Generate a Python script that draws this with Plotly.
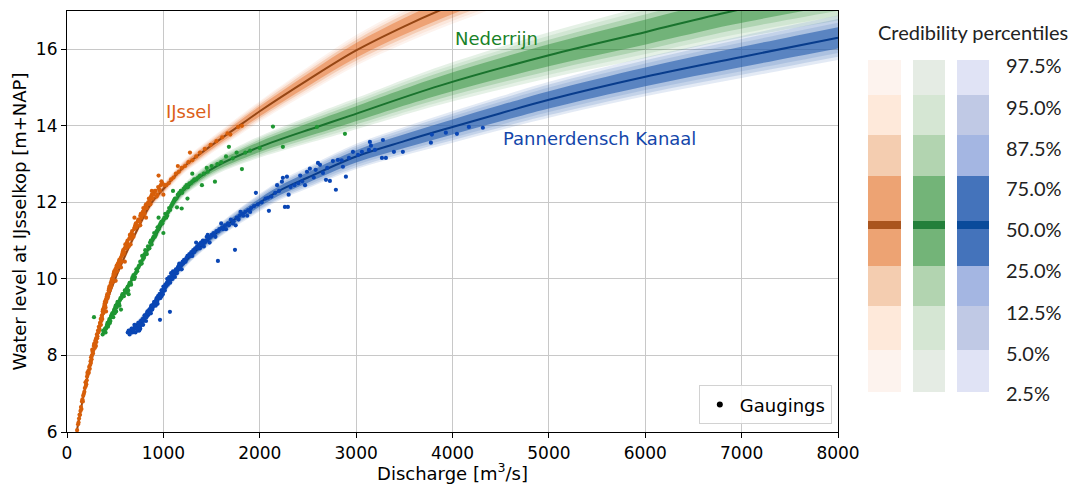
import plotly.graph_objects as go

# ---------------- data ----------------
# Median rating curves (discharge m3/s -> water level m+NAP)
ijssel_q = [100, 200, 300, 400, 500, 675, 880, 1000, 1200, 1320, 1550, 1730, 2000, 2500, 3000, 3500, 3900, 4300, 4800]
ijssel_h = [6.0, 7.3, 8.35, 9.3, 10.0, 11.0, 12.0, 12.35, 12.9, 13.15, 13.58, 13.9, 14.38, 15.2, 15.97, 16.6, 17.05, 17.45, 17.92]
ijssel_spread = [0.04, 0.05, 0.06, 0.08, 0.09, 0.11, 0.13, 0.15, 0.17, 0.19, 0.21, 0.24, 0.27, 0.34, 0.40, 0.45, 0.48, 0.50, 0.52]

nederrijn_q = [365, 500, 690, 860, 1000, 1100, 1205, 1400, 1555, 2000, 2593, 2935, 3870, 5010, 6017, 6910, 8000]
nederrijn_h = [8.55, 9.2, 10.05, 10.85, 11.5, 11.95, 12.3, 12.7, 12.95, 13.45, 13.97, 14.26, 15.05, 15.85, 16.46, 17.0, 17.55]
nederrijn_spread = [0.08, 0.09, 0.11, 0.12, 0.14, 0.15, 0.16, 0.19, 0.21, 0.28, 0.36, 0.40, 0.50, 0.60, 0.68, 0.74, 0.80]

pk_q = [640, 760, 890, 1005, 1070, 1245, 1590, 1930, 2200, 2500, 3000, 3500, 4000, 4500, 5000, 6000, 7000, 8000]
pk_h = [8.6, 8.9, 9.3, 9.7, 9.93, 10.5, 11.28, 11.88, 12.3, 12.65, 13.2, 13.6, 13.97, 14.33, 14.68, 15.28, 15.8, 16.3]
pk_spread = [0.10, 0.10, 0.11, 0.12, 0.13, 0.15, 0.18, 0.22, 0.25, 0.28, 0.33, 0.37, 0.41, 0.44, 0.47, 0.51, 0.55, 0.58]

# relative half-width of each credibility band (97.5/2.5, 95/5, 87.5/12.5, 75/25)
band_factors = [1.0, 0.85, 0.68, 0.48]

# Gaugings (Q, h)
ijssel_gaugings = [(105,6.05),(115,6.2),(125,6.35),(135,6.45),(145,6.65),(150,6.6),(160,6.85),(168,6.95),(175,7.0),
    (185,7.15),(192,7.3),(200,7.25),(208,7.45),(215,7.5),(222,7.6),(230,7.7),(236,7.65),(245,7.85),(250,7.95),
    (258,8.0),(265,8.1),(270,8.05),(278,8.25),(285,8.3),(290,8.2),(296,8.4),(302,8.45),(310,8.55),(316,8.5),
    (322,8.65),(330,8.75),(336,8.7),(342,8.85),(350,8.95),(356,8.9),(362,9.05),(370,9.15),(376,9.1),(383,9.25),
    (390,9.35),(396,9.3),(402,9.45),(410,9.5),(418,9.6),(425,9.55),(432,9.7),(440,9.8),(448,9.75),(455,9.9),
    (462,9.95),(470,9.9),(478,10.05),(486,10.15),(494,10.1),(502,10.25),(512,10.3),(520,10.2),(528,10.4),
    (538,10.45),(548,10.4),(558,10.55),(568,10.6),(578,10.7),(588,10.65),(598,10.8),(610,10.85),(622,10.95),
    (634,10.9),(646,11.05),(658,11.1),(670,11.2),(684,11.15),(696,11.3),(708,11.4),(720,11.35),(734,11.5),
    (748,11.55),(760,11.65),(772,11.6),(786,11.75),(800,11.8),(814,11.9),(828,11.85),(842,12.0),(858,12.05),
    (872,12.15),(888,12.1),(904,12.25),(920,12.3),(938,12.2),(955,12.35),(972,12.45),(990,12.5),(1010,12.45),
    (1030,12.45),(1055,12.5),(1080,12.6),(1105,12.65),(1130,12.75),(1160,12.8),(1190,12.9),(1225,12.95),
    (1260,13.05),(1300,13.1),(1340,13.2),(1380,13.3),(1430,13.4),(1490,13.5),(1550,13.6),(1610,13.7),
    (1665,13.8),(1695,13.77),(1775,13.97),(1815,14.0),(700,11.6),(820,11.6),(950,12.7),(600,10.45),(505,9.95),
    (405,9.15),(300,8.25),(1000,12.2),(1150,12.95),(1276,13.3),(760,11.4),(660,10.9),(560,10.3),(880,12.3),
    (120,6.25),(130,6.45),(140,6.55),(155,6.8),(165,6.8),(180,7.05),(195,7.2),(205,7.35),(212,7.55),(226,7.55),
    (240,7.75),(248,7.8),(255,7.9),(262,8.15),(275,8.15),(282,8.3),(293,8.35),(305,8.35),(313,8.45),(325,8.6),
    (333,8.65),(345,8.8),(352,8.8),(360,9.0),(366,8.95),(373,9.2),(380,9.15),(388,9.3),(393,9.4),(400,9.25),
    (407,9.4),(414,9.55),(422,9.5),(430,9.6),(436,9.75),(444,9.7),(452,9.85),(458,9.8),(466,10.0),(474,9.95),
    (482,10.1),(490,10.2),(498,10.15),(508,10.2),(516,10.35),(524,10.3),(535,10.35),(543,10.5),(553,10.5),
    (563,10.45),(573,10.65),(583,10.75),(593,10.7),(605,10.9),(615,10.8),(628,11.0),(640,10.85),(652,11.15),
    (664,11.05),(676,11.25),(690,11.1),(702,11.35),(714,11.45),(726,11.4),(740,11.55),(754,11.5),(766,11.7),
    (778,11.65),(792,11.85),(806,11.7),(820,11.95),(835,11.95),(850,12.1),(865,11.95),(880,12.2),(896,12.2),
    (912,12.3),(930,12.15),(946,12.4),(964,12.3),(980,12.55)]

nederrijn_gaugings = [(370,8.55),(385,8.6),(395,8.7),(400,8.6),(410,8.75),(420,8.85),(430,8.8),(440,8.95),(450,8.9),
    (460,9.05),(470,9.1),(480,9.0),(490,9.2),(500,9.25),(510,9.15),(520,9.35),(535,9.4),(545,9.3),(555,9.5),
    (570,9.55),(585,9.6),(600,9.7),(615,9.65),(630,9.8),(645,9.85),(660,9.9),(675,10.0),(690,10.1),(705,10.05),
    (720,10.25),(740,10.3),(760,10.45),(775,10.4),(790,10.6),(805,10.65),(820,10.7),(840,10.85),(855,10.8),
    (870,11.0),(890,11.05),(905,11.2),(920,11.15),(940,11.35),(960,11.4),(980,11.5),(1000,11.55),(1020,11.7),
    (1040,11.65),(1060,11.85),(1080,11.9),(1100,12.0),(1120,12.1),(1150,12.2),(1180,12.3),(1210,12.35),
    (1240,12.45),(1270,12.5),(1300,12.55),(1340,12.6),(1380,12.7),(1420,12.75),(1460,12.8),(1535,12.54),
    (1500,12.95),(1560,13.0),(1600,13.05),(1680,13.45),(1720,13.15),(1815,12.87),(1850,13.3),(1900,13.35),
    (2000,13.42),(2137,13.98),(2240,13.45),(2593,13.97),(2884,13.79),(280,9.0),(1000,11.2),(950,11.6),
    (1250,12.1),(1400,12.45),(1100,12.3),(1141,11.87),(1190,11.84),(640,9.6),(780,10.6),(560,9.2),(1300,12.75),
    (1650,13.2),(1760,13.3),(1450,12.9),
    (375,8.65),(390,8.65),(405,8.7),(415,8.8),(425,8.75),(435,8.9),(445,8.85),(455,9.0),(465,9.0),(475,9.1),
    (485,9.15),(495,9.1),(505,9.3),(515,9.25),(525,9.4),(540,9.35),(550,9.45),(565,9.5),(575,9.6),(590,9.55),
    (605,9.65),(620,9.75),(635,9.7),(650,9.9),(665,9.85),(680,10.05),(698,10.0),(712,10.15),(728,10.2),
    (748,10.35),(768,10.4),(785,10.5),(798,10.55),(812,10.75),(828,10.65),(848,10.8),(862,10.95),(878,10.9),
    (898,11.1),(912,11.1),(930,11.25),(950,11.3),(970,11.45),(990,11.45),(1010,11.6),(1030,11.6),(1050,11.75),
    (1070,11.8),(1090,11.95),(1110,12.05),(1135,12.1),(1165,12.25),(1195,12.25),(1225,12.4),(1255,12.4),
    (1285,12.5),(1320,12.6),(1360,12.65)]

pk_gaugings = [(630,8.6),(650,8.55),(660,8.65),(680,8.6),(700,8.7),(710,8.6),(720,8.75),(735,8.65),(750,8.8),
    (760,8.7),(770,8.85),(780,8.9),(790,8.8),(800,8.95),(810,9.0),(820,8.9),(830,9.1),(840,9.05),(850,9.15),
    (860,9.2),(870,9.1),(880,9.3),(890,9.25),(900,9.35),(910,9.4),(920,9.3),(930,9.5),(940,9.45),(950,9.55),
    (960,9.6),(970,9.5),(980,9.7),(990,9.65),(1000,9.8),(1010,9.75),(1020,9.85),(1035,9.9),(1050,9.95),
    (1060,10.05),(1075,10.0),(1090,10.1),(1100,10.2),(1115,10.15),(1130,10.25),(1150,10.3),(1165,10.4),
    (1180,10.35),(1200,10.45),(1215,10.5),(1230,10.45),(1250,10.6),(1270,10.65),(1290,10.7),(1310,10.75),
    (1330,10.8),(1350,10.85),(1370,10.9),(1390,10.95),(1410,11.0),(1430,10.95),(1450,11.1),(1470,11.05),
    (1500,11.15),(1520,11.2),(1550,11.25),(1580,11.3),(1610,11.35),(1640,11.4),(1670,11.45),(1700,11.55),
    (1730,11.5),(1760,11.6),(1790,11.65),(1820,11.7),(1850,11.75),(1880,11.8),(1910,11.85),(1960,12.25),
    (1940,11.9),(1980,11.95),(2020,12.0),(2060,12.1),(2085,12.12),(2120,12.15),(2160,12.25),(2200,12.3),
    (2230,12.54),(2240,12.64),(2261,11.88),(2282,12.67),(2292,11.88),(2320,12.4),(2360,12.45),(2400,12.5),
    (2440,12.55),(2490,12.8),(2520,12.88),(2560,12.65),(2604,13.03),(2625,12.98),(2656,12.77),(2687,12.59),
    (2728,12.56),(2759,13.08),(2790,12.33),(2811,13.11),(2863,12.93),(2894,12.67),(2925,13.16),(2967,13.32),
    (3019,13.24),(3060,13.32),(3133,13.37),(3143,13.58),(3154,13.48),(3195,13.37),(3268,13.16),(3278,13.63),
    (3309,13.16),(3392,13.32),(3485,13.32),(3776,13.56),(3786,13.77),(3931,13.82),(4046,13.79),(4170,13.97),
    (4315,13.95),(700,8.8),(750,8.65),(820,9.05),(870,9.25),(940,9.35),(980,9.55),(1040,10.0),(1080,10.15),
    (1120,10.05),(1160,10.35),(1190,10.25),(1260,10.6),(1300,10.6),(1340,10.95),(1380,10.8),(1420,10.85),
    (1460,11.15),(1480,10.95),(1540,11.1),(1600,11.45),(1650,11.3),(1750,11.4),(1800,11.75),(1870,11.65),
    (1743,10.76),(1566,10.47),(1068,9.14),(965,8.93),(2095,11.78),(2180,12.45),(2300,12.2),(2420,12.7),
    (2470,12.45),(2580,12.85),(2700,12.9),(2850,13.1),
    (640,8.65),(655,8.6),(670,8.7),(690,8.65),(705,8.75),(725,8.7),(740,8.85),(755,8.75),(765,8.9),(775,8.8),
    (785,8.95),(795,8.9),(805,9.05),(815,9.0),(825,9.0),(835,9.15),(845,9.1),(855,9.2),(865,9.15),(875,9.3),
    (885,9.2),(895,9.3),(905,9.4),(915,9.35),(925,9.45),(935,9.4),(945,9.55),(955,9.5),(965,9.6),(975,9.55),
    (985,9.7),(995,9.6),(1005,9.75),(1015,9.7),(1025,9.8),(1045,9.85),(1055,9.95),(1070,9.9),(1085,10.05),
    (1095,10.0),(1110,10.1),(1125,10.2),(1140,10.15),(1155,10.25),(1170,10.3),(1185,10.4),(1205,10.4),
    (1220,10.45),(1240,10.55),(1280,10.6),(1320,10.7),(1360,10.8),(1400,10.9),(1440,11.0),(1490,11.1),
    (1530,11.15),(1570,11.25),(1620,11.3),(1680,11.4),(1720,11.45),(1780,11.55),(1830,11.65),(1900,11.75)]

river_names = ["IJssel", "Nederrijn", "Pannerdensch Kanaal"]
percentile_labels = ["97.5%", "95.0%", "87.5%", "75.0%", "50.0%", "25.0%", "12.5%", "5.0%", "2.5%"]

# ---------------- styles ----------------
band_base = {"IJssel": (224, 90, 10), "Nederrijn": (40, 140, 50), "Pannerdensch Kanaal": (40, 95, 175)}
band_alpha = {"IJssel": [0.07, 0.08, 0.19, 0.37], "Nederrijn": [0.12, 0.10, 0.20, 0.45],
              "Pannerdensch Kanaal": [0.13, 0.16, 0.15, 0.62]}
median_color = {"IJssel": "rgb(150,70,20)", "Nederrijn": "rgb(25,115,45)", "Pannerdensch Kanaal": "rgb(8,60,140)"}
dot_color = {"IJssel": "rgb(215,95,10)", "Nederrijn": "rgb(30,150,50)", "Pannerdensch Kanaal": "rgb(10,70,180)"}
label_color = {"IJssel": "rgb(220,95,25)", "Nederrijn": "rgb(25,130,40)", "Pannerdensch Kanaal": "rgb(20,70,170)"}
label_pos = {"IJssel": (1010, 14.37), "Nederrijn": (4010, 16.27), "Pannerdensch Kanaal": (4500, 13.66)}

legend_cols = {
    "IJssel": ["rgb(253,243,238)", "rgb(254,233,218)", "rgb(244,205,176)", "rgb(237,163,115)", "rgb(170,85,30)"],
    "Nederrijn": ["rgb(229,236,228)", "rgb(213,230,211)", "rgb(178,212,176)", "rgb(115,180,120)", "rgb(35,128,58)"],
    "Pannerdensch Kanaal": ["rgb(224,227,245)", "rgb(192,201,229)", "rgb(164,182,226)", "rgb(68,115,187)", "rgb(10,75,155)"],
}

curves = {
    "IJssel": (ijssel_q, ijssel_h, ijssel_spread, ijssel_gaugings),
    "Nederrijn": (nederrijn_q, nederrijn_h, nederrijn_spread, nederrijn_gaugings),
    "Pannerdensch Kanaal": (pk_q, pk_h, pk_spread, pk_gaugings),
}

fig = go.Figure()

# credibility bands
for name in river_names:
    q, h, s, _ = curves[name]
    r, g, b = band_base[name]
    for f, a in zip(band_factors, band_alpha[name]):
        lower = [hv - f * sv for hv, sv in zip(h, s)]
        upper = [hv + f * sv for hv, sv in zip(h, s)]
        fig.add_trace(go.Scatter(x=q, y=lower, mode="lines", line=dict(width=0, shape="spline"),
                                 showlegend=False, hoverinfo="skip"))
        fig.add_trace(go.Scatter(x=q, y=upper, mode="lines", line=dict(width=0, shape="spline"),
                                 fill="tonexty", fillcolor=f"rgba({r},{g},{b},{a})",
                                 showlegend=False, hoverinfo="skip"))

# median lines
for name in river_names:
    q, h, _, _ = curves[name]
    fig.add_trace(go.Scatter(x=q, y=h, mode="lines", line=dict(color=median_color[name], width=2, shape="spline"),
                             showlegend=False, hoverinfo="skip"))

# gaugings
for name in river_names:
    pts = curves[name][3]
    fig.add_trace(go.Scatter(x=[p[0] for p in pts], y=[p[1] for p in pts], mode="markers",
                             marker=dict(color=dot_color[name], size=4.2), showlegend=False))

fig.add_trace(go.Scatter(x=[None], y=[None], mode="markers", marker=dict(color="black", size=6),
                         name="Gaugings", showlegend=True))

# river labels
for name in river_names:
    x0, y0 = label_pos[name]
    fig.add_annotation(x=x0, y=y0, xref="x", yref="y", text=name, showarrow=False, xanchor="left",
                       yanchor="middle", font=dict(size=18, color=label_color[name], family="DejaVu Sans"))

# ---- custom credibility legend (pixel positions converted to paper coords) ----
L, R, T, B = 67, 838, 11, 432
def px(xp):
    return (xp - L) / (R - L)
def py(yp):
    return (B - yp) / (B - T)

col_x = {"IJssel": (868, 901), "Nederrijn": (913, 945), "Pannerdensch Kanaal": (957, 989)}
rows = [(60, 95, 0), (95, 135, 1), (135, 176, 2), (176, 266, 3), (266, 306, 2), (306, 350, 1), (350, 392, 0)]
shapes = []
for name in river_names:
    x0, x1 = col_x[name]
    for y0, y1, ci in rows:
        shapes.append(dict(type="rect", xref="paper", yref="paper", x0=px(x0), x1=px(x1), y0=py(y1), y1=py(y0),
                           fillcolor=legend_cols[name][ci], line=dict(width=0), layer="above"))
    shapes.append(dict(type="rect", xref="paper", yref="paper", x0=px(x0), x1=px(x1), y0=py(229), y1=py(221),
                       fillcolor=legend_cols[name][4], line=dict(width=0), layer="above"))

label_y = [65, 107, 148, 188, 229, 270, 312, 353, 393]
for lab, yy in zip(percentile_labels, label_y):
    fig.add_annotation(x=px(1004), y=py(yy), xref="paper", yref="paper", text=lab, showarrow=False,
                       xanchor="left", yanchor="middle", font=dict(size=20, color="#222", family="Lato"))
fig.add_annotation(x=px(973), y=py(32), xref="paper", yref="paper", text="Credibility percentiles",
                   showarrow=False, xanchor="center", yanchor="middle",
                   font=dict(size=20, color="#222", family="Lato"))

axis_common = dict(showline=True, linecolor="black", linewidth=1.2, mirror=True, ticks="outside", ticklen=5,
                   tickcolor="black", showgrid=True, gridcolor="rgb(200,200,200)", gridwidth=1.3, zeroline=False,
                   automargin=False, tickfont=dict(size=17, color="black", family="DejaVu Sans"))

fig.update_layout(
    width=1078, height=484,
    margin=dict(l=L, r=1078 - R, t=T, b=484 - B),
    paper_bgcolor="white", plot_bgcolor="white",
    font=dict(family="DejaVu Sans", color="black"),
    shapes=shapes,
    xaxis=dict(range=[0, 8000], tickvals=[0, 1000, 2000, 3000, 4000, 5000, 6000, 7000, 8000],
               title=dict(text="Discharge [m<sup>3</sup>/s]", font=dict(size=18, family="DejaVu Sans"), standoff=3),
               **axis_common),
    yaxis=dict(range=[6, 17], tickvals=[6, 8, 10, 12, 14, 16],
               title=dict(text="Water level at IJsselkop [m+NAP]", font=dict(size=18, family="DejaVu Sans"), standoff=4),
               **axis_common),
    legend=dict(x=0.992, y=0.018, xanchor="right", yanchor="bottom", bgcolor="rgba(255,255,255,0.85)",
                bordercolor="rgb(210,210,210)", borderwidth=1, font=dict(size=18, family="DejaVu Sans")),
    showlegend=True,
)

fig.write_html("out.html", config={"displayModeBar": False},
               post_script="document.body.style.margin='0px';")
